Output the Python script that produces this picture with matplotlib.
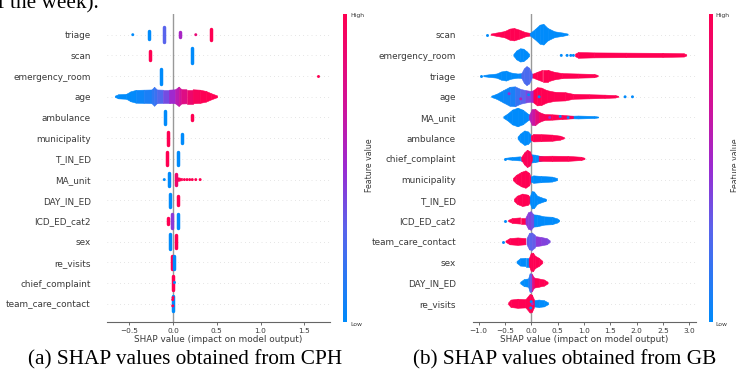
import matplotlib
matplotlib.use("Agg")
import matplotlib.pyplot as plt
from matplotlib.colors import LinearSegmentedColormap
from matplotlib.patches import Polygon
import numpy as np

# ---------------- data ----------------
# value of a mark = SHAP value; colour value = feature value (0 = low, 1 = high)

CPH_FEATURES = ["triage", "scan", "emergency_room", "age", "ambulance",
                "municipality", "T_IN_ED", "MA_unit", "DAY_IN_ED",
                "ICD_ED_cat2", "sex", "re_visits", "chief_complaint",
                "team_care_contact"]
# narrow stacks of points: (shap, half height in rows, feature value)
CPH_BARS = [
    [(-0.28, 0.24, 0.0), (-0.10, 0.44, 0.3), (0.08, 0.14, 0.55), (0.435, 0.32, 1.0)],
    [(-0.26, 0.28, 1.0), (0.22, 0.42, 0.0)],
    [(-0.14, 0.44, 0.0)],
    [],
    [(-0.09, 0.36, 0.0), (0.22, 0.17, 1.0)],
    [(-0.06, 0.38, 1.0), (0.10, 0.27, 0.0)],
    [(-0.065, 0.38, 1.0), (0.053, 0.38, 0.0)],
    [(-0.05, 0.40, 0.0), (0.03, 0.33, 0.9)],
    [(-0.034, 0.39, 0.0), (0.06, 0.28, 1.0)],
    [(-0.06, 0.19, 1.0), (-0.01, 0.43, 0.45), (0.053, 0.40, 0.0)],
    [(-0.034, 0.45, 0.0), (0.034, 0.40, 1.0)],
    [(-0.015, 0.40, 1.0), (0.015, 0.40, 0.0)],
    [(-0.005, 0.42, 1.0)],
    [(-0.005, 0.45, 0.0)],
]
# wide swarms: profiles of (shap, half height in rows, feature value)
CPH_BANDS = [
    [], [], [],
    [[(-0.66, 0.03, 0.0), (-0.62, 0.10, 0.0), (-0.53, 0.12, 0.0), (-0.48, 0.24, 0.0),
      (-0.42, 0.31, 0.02), (-0.33, 0.32, 0.06), (-0.24, 0.33, 0.12), (-0.21, 0.46, 0.18),
      (-0.18, 0.33, 0.22), (-0.11, 0.32, 0.32), (-0.04, 0.32, 0.45), (0.03, 0.34, 0.58),
      (0.07, 0.47, 0.66), (0.10, 0.35, 0.74), (0.16, 0.34, 0.84), (0.23, 0.34, 0.93),
      (0.31, 0.32, 0.98), (0.38, 0.26, 1.0), (0.44, 0.15, 1.0), (0.51, 0.04, 1.0)]],
    [], [], [],
    [[(0.03, 0.10, 1.0), (0.07, 0.08, 1.0), (0.11, 0.05, 1.0)]],
    [], [], [], [], [], [],
]
# single points: (shap, vertical offset in rows, feature value)
CPH_DOTS = [
    [(-0.46, 0.0, 0.0), (0.26, 0.0, 0.85)],
    [], [(1.66, 0.0, 1.0)], [], [], [], [],
    [(-0.10, 0.0, 0.0), (0.13, 0.0, 1.0), (0.16, 0.0, 1.0), (0.19, 0.0, 1.0),
     (0.22, 0.0, 1.0), (0.26, 0.0, 1.0), (0.31, 0.0, 1.0)],
    [], [], [], [], [(0.012, 0.05, 0.0)],
    [(-0.003, 0.2, 1.0), (-0.003, -0.1, 1.0), (0.0, 0.3, 1.0)],
]
CPH_TICKS = [-0.5, 0.0, 0.5, 1.0, 1.5]
CPH_TICKLABELS = ["\u22120.5", "0.0", "0.5", "1.0", "1.5"]

GB_FEATURES = ["scan", "emergency_room", "triage", "age", "MA_unit", "ambulance",
               "chief_complaint", "municipality", "T_IN_ED", "ICD_ED_cat2",
               "team_care_contact", "sex", "DAY_IN_ED", "re_visits"]
GB_BARS = [[] for _ in GB_FEATURES]
GB_BANDS = [
    # scan
    [[(-0.76, 0.03, 1), (-0.65, 0.08, 1), (-0.50, 0.15, 1), (-0.40, 0.27, 1),
      (-0.32, 0.30, 1), (-0.22, 0.22, 1), (-0.10, 0.10, 1), (0.0, 0.06, 1)],
     [(-0.02, 0.05, 0), (0.08, 0.25, 0), (0.17, 0.46, 0), (0.24, 0.50, 0),
      (0.32, 0.30, 0), (0.45, 0.14, 0), (0.60, 0.08, 0), (0.70, 0.03, 0)]],
    # emergency_room
    [[(-0.33, 0.04, 0), (-0.27, 0.22, 0), (-0.20, 0.32, 0), (-0.14, 0.30, 0),
      (-0.08, 0.18, 0), (-0.03, 0.05, 0)],
     [(0.84, 0.06, 1), (0.90, 0.14, 1), (1.20, 0.12, 1), (1.80, 0.11, 1),
      (2.50, 0.10, 1), (2.90, 0.08, 1), (2.95, 0.03, 1)]],
    # triage
    [[(-0.90, 0.03, 0), (-0.80, 0.06, 0), (-0.65, 0.10, 0), (-0.56, 0.20, 0),
      (-0.47, 0.24, 0), (-0.38, 0.15, 0), (-0.25, 0.10, 0), (-0.17, 0.12, 0.05)],
     [(0.02, 0.08, 1), (0.12, 0.18, 1), (0.22, 0.28, 1), (0.32, 0.28, 1),
      (0.45, 0.18, 1), (0.60, 0.12, 1), (0.90, 0.10, 1), (1.20, 0.08, 1), (1.27, 0.03, 1)],
     [(-0.18, 0.10, 0.25), (-0.13, 0.35, 0.25), (-0.08, 0.46, 0.25),
      (-0.03, 0.38, 0.25), (0.02, 0.10, 0.3)]],
    # age
    [[(-0.75, 0.03, 0), (-0.65, 0.12, 0), (-0.52, 0.30, 0.03), (-0.40, 0.46, 0.05),
      (-0.30, 0.48, 0.12), (-0.20, 0.36, 0.25), (-0.10, 0.30, 0.35), (0.0, 0.26, 0.45),
      (0.06, 0.30, 0.6)],
     [(0.05, 0.30, 1), (0.12, 0.44, 1), (0.20, 0.42, 1), (0.30, 0.30, 1),
      (0.45, 0.22, 1), (0.65, 0.20, 1), (0.80, 0.12, 1), (1.10, 0.10, 1),
      (1.40, 0.08, 1), (1.60, 0.06, 1), (1.66, 0.02, 1)]],
    # MA_unit
    [[(-0.52, 0.04, 0), (-0.45, 0.15, 0), (-0.35, 0.36, 0), (-0.25, 0.45, 0),
      (-0.15, 0.35, 0), (-0.05, 0.15, 0), (0.0, 0.10, 0.1)],
     [(0.60, 0.05, 0), (0.90, 0.07, 0), (1.20, 0.05, 0), (1.28, 0.02, 0)],
     [(0.20, 0.15, 1), (0.40, 0.13, 1), (0.60, 0.10, 1), (0.80, 0.06, 1)],
     [(-0.03, 0.10, 0.6), (0.02, 0.38, 0.6), (0.08, 0.40, 0.75), (0.15, 0.25, 0.9),
      (0.25, 0.15, 1)]],
    # ambulance
    [[(-0.25, 0.05, 0), (-0.20, 0.20, 0), (-0.12, 0.35, 0), (-0.05, 0.30, 0), (0.0, 0.15, 0)],
     [(0.0, 0.10, 1), (0.05, 0.18, 1), (0.20, 0.17, 1), (0.40, 0.15, 1),
      (0.55, 0.10, 1), (0.63, 0.03, 1)]],
    # chief_complaint
    [[(-0.48, 0.03, 0), (-0.35, 0.07, 0), (-0.20, 0.10, 0), (-0.12, 0.10, 0)],
     [(0.0, 0.20, 0), (0.08, 0.18, 0), (0.18, 0.12, 0), (0.30, 0.05, 0)],
     [(0.15, 0.12, 1), (0.40, 0.13, 1), (0.70, 0.12, 1), (0.95, 0.08, 1), (1.02, 0.03, 1)],
     [(-0.18, 0.08, 1), (-0.12, 0.30, 1), (-0.07, 0.42, 0.95), (-0.02, 0.35, 1), (0.02, 0.10, 1)]],
    # municipality
    [[(-0.34, 0.05, 1), (-0.28, 0.20, 1), (-0.18, 0.35, 1), (-0.10, 0.42, 1),
      (-0.03, 0.30, 1), (0.0, 0.10, 1)],
     [(0.0, 0.12, 0), (0.05, 0.18, 0), (0.20, 0.15, 0), (0.40, 0.12, 0), (0.50, 0.05, 0)]],
    # T_IN_ED
    [[(-0.32, 0.05, 1), (-0.26, 0.20, 1), (-0.16, 0.30, 1), (-0.06, 0.25, 1), (0.0, 0.10, 1)],
     [(-0.02, 0.15, 0), (0.02, 0.42, 0), (0.06, 0.40, 0), (0.12, 0.20, 0),
      (0.20, 0.12, 0), (0.28, 0.05, 0)]],
    # ICD_ED_cat2
    [[(-0.43, 0.03, 1), (-0.35, 0.12, 1), (-0.20, 0.15, 1), (-0.08, 0.15, 1)],
     [(0.03, 0.30, 0), (0.12, 0.28, 0), (0.25, 0.20, 0), (0.40, 0.18, 0),
      (0.50, 0.10, 0), (0.54, 0.03, 0)],
     [(-0.10, 0.15, 0.45), (-0.05, 0.40, 0.45), (0.0, 0.45, 0.4), (0.05, 0.30, 0.35)]],
    # team_care_contact
    [[(-0.48, 0.03, 1), (-0.40, 0.15, 1), (-0.25, 0.18, 1), (-0.10, 0.15, 1)],
     [(0.08, 0.25, 0.45), (0.20, 0.20, 0.45), (0.30, 0.15, 0.4), (0.36, 0.04, 0.4)],
     [(-0.08, 0.15, 0.35), (-0.03, 0.40, 0.3), (0.02, 0.42, 0.3), (0.08, 0.30, 0.35)]],
    # sex
    [[(-0.27, 0.04, 0), (-0.20, 0.18, 0), (-0.10, 0.20, 0), (-0.03, 0.20, 0)],
     [(-0.04, 0.15, 1), (0.0, 0.42, 1), (0.04, 0.45, 1), (0.08, 0.30, 1),
      (0.15, 0.20, 1), (0.22, 0.05, 1)]],
    # DAY_IN_ED
    [[(-0.20, 0.04, 0), (-0.13, 0.17, 0), (-0.05, 0.20, 0)],
     [(0.05, 0.25, 1), (0.15, 0.20, 1), (0.25, 0.15, 1), (0.32, 0.04, 1)],
     [(-0.05, 0.20, 0.1), (-0.02, 0.45, 0.1), (0.02, 0.42, 0.6), (0.06, 0.25, 1)]],
    # re_visits
    [[(0.05, 0.15, 0), (0.15, 0.18, 0), (0.25, 0.15, 0), (0.33, 0.04, 0)],
     [(-0.43, 0.04, 1), (-0.38, 0.18, 1), (-0.25, 0.22, 1), (-0.10, 0.20, 1),
      (-0.02, 0.45, 1), (0.02, 0.42, 1), (0.06, 0.20, 1)]],
]
GB_DOTS = [
    [(-0.84, 0.0, 1)],
    [(0.57, 0.0, 1), (0.68, 0.0, 1), (0.75, 0.0, 1), (0.80, 0.0, 1)],
    [(-0.95, 0.0, 0)],
    [(1.78, 0.0, 1), (1.92, 0.0, 1), (-0.42, 0.15, 0.5), (-0.2, -0.1, 0.6),
     (0.15, 0.0, 0.0), (-0.05, 0.1, 1)],
    [(0.70, 0.0, 0.0), (0.55, 0.05, 0.0), (0.35, 0.0, 0.5)],
    [],
    [(-0.50, 0.0, 0)],
    [],
    [(0.12, 0.05, 1), (0.20, 0.0, 1), (0.27, 0.0, 1)],
    [(-0.50, 0.0, 1)],
    [(-0.54, 0.0, 1)],
    [],
    [],
    [(0.0, 0.1, 0), (-0.01, -0.2, 0), (0.02, 0.0, 0.5)],
]
GB_TICKS = [-1.0, -0.5, 0.0, 0.5, 1.0, 1.5, 2.0, 2.5, 3.0]
GB_TICKLABELS = ["\u22121.0", "\u22120.5", "0.0", "0.5", "1.0", "1.5", "2.0", "2.5", "3.0"]

CAPTIONS = ["(a) SHAP values obtained from CPH", "(b) SHAP values obtained from GB"]
HEADER = "of the week)."

# ---------------- style ----------------
W, H = 736, 369
cmap = LinearSegmentedColormap.from_list(
    "shap_red_blue",
    [(0.0, "#008bfb"), (0.3, "#5a64ec"), (0.5, "#9b2bd2"), (0.7, "#d0139a"), (1.0, "#ff0052")])
TXT = "#3a3a3a"

fig = plt.figure(figsize=(W / 100, H / 100), dpi=100)


def fx(px):
    return px / W


def fy(py):
    return 1 - py / H


def draw_panel(x0px, x1px, xlim, features, bars, bands, dots, ticks, ticklabels):
    top, bot = 14, 322
    ax = fig.add_axes([fx(x0px), fy(bot), fx(x1px - x0px), (bot - top) / H])
    n = len(features)
    ax.set_xlim(*xlim)
    ax.set_ylim(-0.88, n)
    ax.axvline(0, color="#999999", lw=1.0, zorder=0)
    for i in range(n):
        y = n - 1 - i
        ax.axhline(y, color="#cccccc", lw=0.5, dashes=(1, 5), zorder=-1)
        for prof in bands[i]:
            for j in range(len(prof) - 1):
                xa, ha, ca = prof[j]
                xb, hb, cb = prof[j + 1]
                col = cmap((ca + cb) / 2)
                ax.add_patch(Polygon([(xa, y - ha), (xb, y - hb), (xb, y + hb), (xa, y + ha)],
                                     closed=True, facecolor=col, edgecolor=col, lw=0.4,
                                     zorder=2))
        for (xv, hh, cv) in bars[i]:
            ax.plot([xv, xv], [y - hh * 0.82, y + hh * 0.82], color=cmap(cv), lw=2.5,
                    solid_capstyle="round", zorder=3)
        if dots[i]:
            ax.scatter([d[0] for d in dots[i]], [y + d[1] for d in dots[i]],
                       c=[cmap(d[2]) for d in dots[i]], s=4.5, linewidths=0, zorder=4)
    ax.set_yticks(range(n))
    ax.set_yticklabels(features[::-1], fontsize=6.4, color=TXT)
    ax.tick_params(axis="y", length=0, pad=12)
    ax.set_xticks(ticks)
    ax.set_xticklabels(ticklabels, fontsize=5.3, color=TXT)
    ax.tick_params(axis="x", length=2.5, width=0.6, color="#555555", pad=1.5)
    for s in ("left", "right", "top"):
        ax.spines[s].set_visible(False)
    ax.spines["bottom"].set_color("#666666")
    ax.spines["bottom"].set_linewidth(0.8)
    ax.set_xlabel("SHAP value (impact on model output)", fontsize=6.4, color=TXT, labelpad=1)
    ax.patch.set_alpha(0)
    return ax


def draw_colorbar(xpx):
    top, bot = 14, 322
    cax = fig.add_axes([fx(xpx), fy(bot), fx(3.3), (bot - top) / H])
    grad = np.linspace(0, 1, 256).reshape(-1, 1)
    cax.imshow(grad, aspect="auto", cmap=cmap, origin="lower", extent=(0, 1, 0, 1))
    cax.set_axis_off()
    fig.text(fx(xpx + 6.5), fy(15), "High", fontsize=4.4, color=TXT, ha="left", va="center")
    fig.text(fx(xpx + 6.5), fy(324), "Low", fontsize=4.4, color=TXT, ha="left", va="center")
    fig.text(fx(xpx + 26.5), fy(165), "Feature value", fontsize=5.6, color=TXT,
             rotation=90, ha="center", va="center")


draw_panel(107.3, 330.0, (-0.751, 1.794), CPH_FEATURES, CPH_BARS, CPH_BANDS, CPH_DOTS,
           CPH_TICKS, CPH_TICKLABELS)
draw_panel(472.7, 696.0, (-1.11, 3.125), GB_FEATURES, GB_BARS, GB_BANDS, GB_DOTS,
           GB_TICKS, GB_TICKLABELS)
draw_colorbar(343.4)
draw_colorbar(709.3)

serif = ["Liberation Serif", "DejaVu Serif"]
fig.text(fx(185), fy(364.5), CAPTIONS[0], family=serif, fontsize=15.3, ha="center",
         va="baseline", color="black")
fig.text(fx(565), fy(364.5), CAPTIONS[1], family=serif, fontsize=15.3, ha="center",
         va="baseline", color="black")
fig.text(fx(-13), fy(8), HEADER, family=serif, fontsize=15.3, ha="left",
         va="baseline", color="black")

fig.savefig("out.png", dpi=100)
